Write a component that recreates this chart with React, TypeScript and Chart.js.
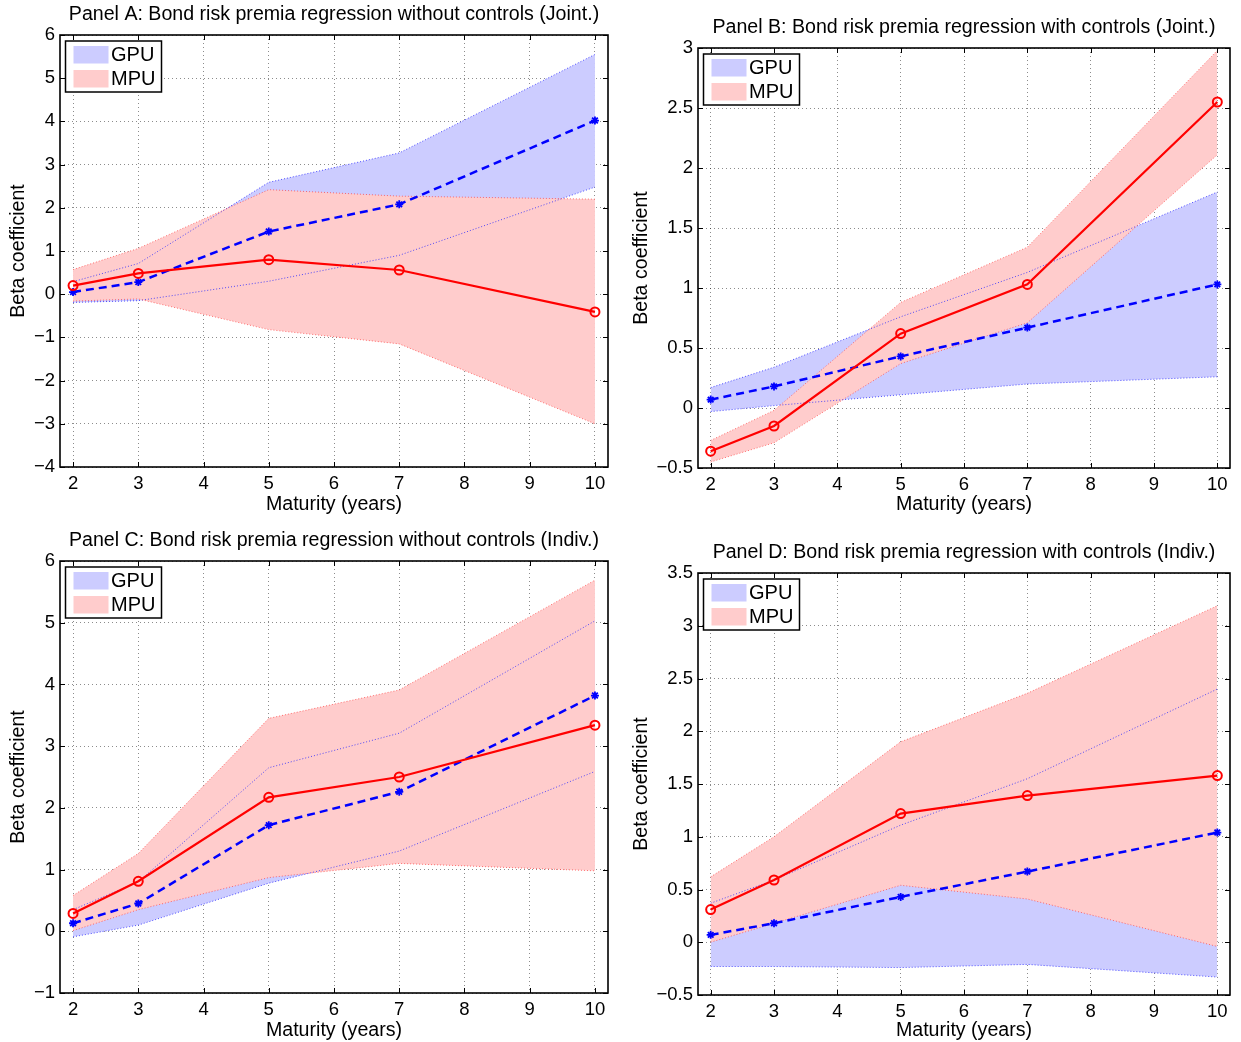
import React, { useEffect, useRef } from "react";
import { Chart, registerables } from "chart.js";

Chart.register(...registerables);

const FONT = "'Liberation Sans', Arial, Helvetica, sans-serif";

// ---------- data ----------
const maturities = [2, 3, 5, 7, 10];
const xTickValues = [2, 3, 4, 5, 6, 7, 8, 9, 10];

const seriesNames = ["GPU", "MPU"];
const panelTitles = [
  "Panel A: Bond risk premia regression without controls (Joint.)",
  "Panel B: Bond risk premia regression with controls (Joint.)",
  "Panel C: Bond risk premia regression without controls (Indiv.)",
  "Panel D: Bond risk premia regression with controls (Indiv.)",
];
const xAxisTitle = "Maturity (years)";
const yAxisTitle = "Beta coefficient";

// Panel A
const aGpuMean = [0.05, 0.28, 1.45, 2.08, 4.02];
const aGpuUpper = [0.29, 0.71, 2.59, 3.27, 5.55];
const aGpuLower = [-0.19, -0.15, 0.30, 0.90, 2.48];
const aMpuMean = [0.2, 0.48, 0.8, 0.56, -0.41];
const aMpuUpper = [0.57, 1.06, 2.42, 2.27, 2.2];
const aMpuLower = [-0.16, -0.11, -0.82, -1.15, -3.0];
const aYTicks = [-4, -3, -2, -1, 0, 1, 2, 3, 4, 5, 6];

// Panel B
const bGpuMean = [0.07, 0.18, 0.43, 0.67, 1.03];
const bGpuUpper = [0.17, 0.34, 0.76, 1.13, 1.8];
const bGpuLower = [-0.03, 0.02, 0.11, 0.2, 0.26];
const bMpuMean = [-0.36, -0.15, 0.62, 1.03, 2.55];
const bMpuUpper = [-0.27, -0.02, 0.88, 1.34, 2.98];
const bMpuLower = [-0.45, -0.29, 0.37, 0.71, 2.11];
const bYTicks = [-0.5, 0, 0.5, 1, 1.5, 2, 2.5, 3];

// Panel C
const cGpuMean = [0.13, 0.45, 1.72, 2.26, 3.82];
const cGpuUpper = [0.35, 0.8, 2.65, 3.21, 5.03];
const cGpuLower = [-0.09, 0.1, 0.78, 1.3, 2.59];
const cMpuMean = [0.29, 0.81, 2.17, 2.5, 3.34];
const cMpuUpper = [0.58, 1.26, 3.45, 3.91, 5.69];
const cMpuLower = [0.01, 0.35, 0.87, 1.1, 0.98];
const cYTicks = [-1, 0, 1, 2, 3, 4, 5, 6];

// Panel D
const dGpuMean = [0.07, 0.18, 0.43, 0.67, 1.04];
const dGpuUpper = [0.37, 0.59, 1.11, 1.55, 2.4];
const dGpuLower = [-0.23, -0.23, -0.24, -0.21, -0.33];
const dMpuMean = [0.31, 0.59, 1.22, 1.39, 1.58];
const dMpuUpper = [0.62, 1.0, 1.9, 2.36, 3.19];
const dMpuLower = [0.0, 0.18, 0.54, 0.41, -0.04];
const dYTicks = [-0.5, 0, 0.5, 1, 1.5, 2, 2.5, 3, 3.5];

// ---------- styles ----------
const GPU_FILL = "rgb(204,204,255)";
const MPU_FILL = "rgb(255,204,204)";
const GPU_LINE = "#0000ff";
const MPU_LINE = "#ff0000";
const TITLE_SIZE = 19.6;
const TICK_SIZE = 18.5;

type PanelCfg = {
  title: string;
  gpu: number[][];
  mpu: number[][];
  yTicks: number[];
  pos: { x: number; y: number; w: number; h: number };
  area: { left: number; top: number; right: number; bottom: number };
  yTitlePad: number;
};

const panels: PanelCfg[] = [
  {
    title: panelTitles[0],
    gpu: [aGpuMean, aGpuUpper, aGpuLower],
    mpu: [aMpuMean, aMpuUpper, aMpuLower],
    yTicks: aYTicks,
    pos: { x: 0, y: 0, w: 620, h: 526 },
    area: { left: 60, top: 35, right: 608, bottom: 467 },
    yTitlePad: 7,
  },
  {
    title: panelTitles[1],
    gpu: [bGpuMean, bGpuUpper, bGpuLower],
    mpu: [bMpuMean, bMpuUpper, bMpuLower],
    yTicks: bYTicks,
    pos: { x: 620, y: 0, w: 621, h: 526 },
    area: { left: 78, top: 48, right: 610, bottom: 468 },
    yTitlePad: 10,
  },
  {
    title: panelTitles[2],
    gpu: [cGpuMean, cGpuUpper, cGpuLower],
    mpu: [cMpuMean, cMpuUpper, cMpuLower],
    yTicks: cYTicks,
    pos: { x: 0, y: 526, w: 620, h: 516 },
    area: { left: 60, top: 35, right: 608, bottom: 467 },
    yTitlePad: 7,
  },
  {
    title: panelTitles[3],
    gpu: [dGpuMean, dGpuUpper, dGpuLower],
    mpu: [dMpuMean, dMpuUpper, dMpuLower],
    yTicks: dYTicks,
    pos: { x: 620, y: 526, w: 621, h: 516 },
    area: { left: 78, top: 47, right: 610, bottom: 469 },
    yTitlePad: 10,
  },
];

const toPts = (arr: number[]) => maturities.map((m, i) => ({ x: m, y: arr[i] }));
const fmt = (v: number) => String(v).replace("-", "\u2212");

const framePlugin = {
  id: "matlabFrame",
  afterDraw(chart: any, _args: any, opts: any) {
    const ctx = chart.ctx as CanvasRenderingContext2D;
    const { left, top, right, bottom } = chart.chartArea;
    const xs = chart.scales.x;
    const ys = chart.scales.y;
    ctx.save();
    // title
    ctx.fillStyle = "#000";
    ctx.font = `${TITLE_SIZE}px ${FONT}`;
    ctx.textAlign = "center";
    ctx.textBaseline = "middle";
    ctx.fillText(opts.title, (left + right) / 2, top - 20.5);
    // inward ticks
    ctx.strokeStyle = "#000";
    ctx.lineWidth = 1;
    ctx.beginPath();
    xTickValues.forEach((v) => {
      const px = Math.round(xs.getPixelForValue(v)) + 0.5;
      ctx.moveTo(px, bottom);
      ctx.lineTo(px, bottom - 5);
      ctx.moveTo(px, top);
      ctx.lineTo(px, top + 5);
    });
    (opts.yTicks as number[]).forEach((v) => {
      const py = Math.round(ys.getPixelForValue(v)) + 0.5;
      ctx.moveTo(left, py);
      ctx.lineTo(left + 5, py);
      ctx.moveTo(right, py);
      ctx.lineTo(right - 5, py);
    });
    ctx.stroke();
    // box
    ctx.lineWidth = 1.6;
    ctx.strokeRect(left, top, right - left, bottom - top);
    // legend
    const lx = left + 5.5;
    const ly = top + 6;
    const lw = 96;
    const lh = 51;
    ctx.fillStyle = "#fff";
    ctx.fillRect(lx, ly, lw, lh);
    ctx.lineWidth = 1.5;
    ctx.strokeStyle = "#000";
    ctx.strokeRect(lx, ly, lw, lh);
    ctx.fillStyle = GPU_FILL;
    ctx.fillRect(lx + 8, ly + 5, 35, 17.5);
    ctx.fillStyle = MPU_FILL;
    ctx.fillRect(lx + 8, ly + 29, 35, 17.5);
    ctx.fillStyle = "#000";
    ctx.font = `20px ${FONT}`;
    ctx.textAlign = "left";
    ctx.textBaseline = "middle";
    ctx.fillText(seriesNames[0], lx + 45.5, ly + 14);
    ctx.fillText(seriesNames[1], lx + 45.5, ly + 38.5);
    ctx.restore();
  },
};

function Panel({ cfg }: { cfg: PanelCfg }) {
  const ref = useRef<HTMLCanvasElement>(null);
  useEffect(() => {
    const { pos, area } = cfg;
    const bandStyle = (color: string) => ({
      borderColor: color,
      borderWidth: 1,
      borderDash: [1, 2],
      pointRadius: 0,
      tension: 0,
    });
    const chart = new Chart(ref.current as HTMLCanvasElement, {
      type: "line",
      data: {
        datasets: [
          {
            label: "MPU",
            data: toPts(cfg.mpu[0]),
            borderColor: MPU_LINE,
            borderWidth: 2.2,
            pointStyle: "circle",
            pointRadius: 4.5,
            pointBorderWidth: 2,
            pointBorderColor: MPU_LINE,
            pointBackgroundColor: "rgba(0,0,0,0)",
            fill: false,
            tension: 0,
            order: 0,
          },
          {
            label: "GPU",
            data: toPts(cfg.gpu[0]),
            borderColor: GPU_LINE,
            borderWidth: 2.5,
            borderDash: [8, 5],
            pointStyle: "star",
            pointRadius: 4,
            pointBorderWidth: 1.8,
            pointBorderColor: GPU_LINE,
            pointBackgroundColor: GPU_LINE,
            fill: false,
            tension: 0,
            order: 1,
          },
          {
            label: "MPU upper",
            data: toPts(cfg.mpu[1]),
            ...bandStyle("rgba(255,60,60,0.7)"),
            backgroundColor: MPU_FILL,
            fill: "+1",
            order: 2,
          },
          {
            label: "MPU lower",
            data: toPts(cfg.mpu[2]),
            ...bandStyle("rgba(255,60,60,0.7)"),
            fill: false,
            order: 3,
          },
          {
            label: "GPU upper",
            data: toPts(cfg.gpu[1]),
            ...bandStyle("rgba(40,40,255,0.8)"),
            backgroundColor: GPU_FILL,
            fill: "+1",
            order: 4,
          },
          {
            label: "GPU lower",
            data: toPts(cfg.gpu[2]),
            ...bandStyle("rgba(40,40,255,0.8)"),
            fill: false,
            order: 5,
          },
        ],
      },
      options: {
        responsive: false,
        animation: false,
        devicePixelRatio: 1,
        layout: {
          padding: { left: 0, top: area.top, right: pos.w - area.right, bottom: 0 },
        },
        plugins: {
          legend: { display: false },
          tooltip: { enabled: false },
          title: { display: false },
          filler: { drawTime: "beforeDatasetsDraw" },
          matlabFrame: { title: cfg.title, yTicks: cfg.yTicks },
        } as any,
        scales: {
          x: {
            type: "linear",
            min: 1.8,
            max: 10.2,
            afterBuildTicks: (s: any) => {
              s.ticks = xTickValues.map((v) => ({ value: v }));
            },
            afterFit: (s: any) => {
              s.height = pos.h - area.bottom;
            },
            grid: { color: "rgba(0,0,0,0.45)", lineWidth: 1, drawTicks: false },
            border: { display: false, dash: [1, 3] },
            ticks: {
              font: { family: FONT, size: TICK_SIZE },
              color: "#000",
              padding: 6,
              maxRotation: 0,
              autoSkip: false,
              callback: (v: any) => fmt(v),
            },
            title: {
              display: true,
              text: xAxisTitle,
              font: { family: FONT, size: TITLE_SIZE },
              color: "#000",
              padding: { top: 0, bottom: pos.h - 505 - 11.8 },
            },
          },
          y: {
            type: "linear",
            min: cfg.yTicks[0],
            max: cfg.yTicks[cfg.yTicks.length - 1],
            afterBuildTicks: (s: any) => {
              s.ticks = cfg.yTicks.map((v) => ({ value: v }));
            },
            afterFit: (s: any) => {
              s.width = area.left;
            },
            grid: { color: "rgba(0,0,0,0.45)", lineWidth: 1, drawTicks: false },
            border: { display: false, dash: [1, 3] },
            ticks: {
              font: { family: FONT, size: TICK_SIZE },
              color: "#000",
              padding: 5,
              autoSkip: false,
              callback: (v: any) => fmt(v),
            },
            title: {
              display: true,
              text: yAxisTitle,
              font: { family: FONT, size: TITLE_SIZE },
              color: "#000",
              padding: { top: cfg.yTitlePad, bottom: 0 },
            },
          },
        },
      },
      plugins: [framePlugin],
    } as any);
    return () => chart.destroy();
  }, [cfg]);
  return (
    <canvas
      ref={ref}
      width={cfg.pos.w}
      height={cfg.pos.h}
      style={{
        position: "absolute",
        left: cfg.pos.x,
        top: cfg.pos.y,
        width: cfg.pos.w,
        height: cfg.pos.h,
      }}
    />
  );
}

export default function App() {
  return (
    <div
      style={{
        position: "absolute",
        left: 0,
        top: 0,
        width: 1241,
        height: 1042,
        background: "#fff",
      }}
    >
      {panels.map((p, i) => (
        <Panel key={i} cfg={p} />
      ))}
    </div>
  );
}
